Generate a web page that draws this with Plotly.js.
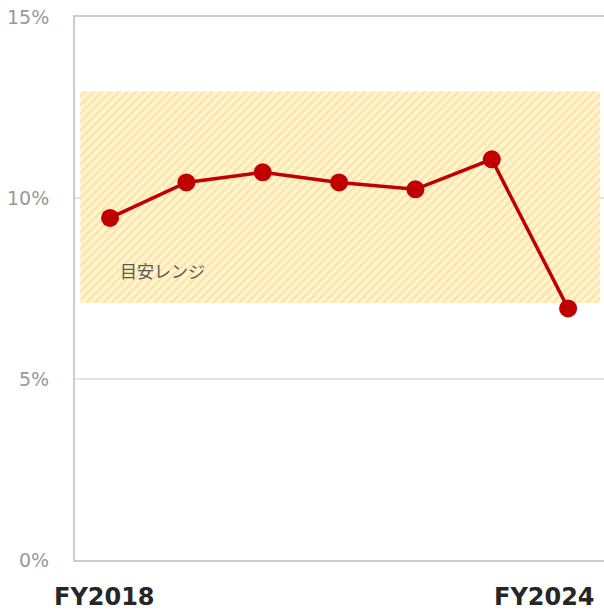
<!DOCTYPE html>
<html>
<head>
<meta charset="utf-8">
<script src="https://cdn.plot.ly/plotly-3.0.1.min.js"></script>
<style>html,body{margin:0;padding:0;background:#fff;}#chart{width:604px;height:612px;}</style>
</head>
<body>
<div id="chart"></div>
<script>
const years = ['FY2018','FY2019','FY2020','FY2021','FY2022','FY2023','FY2024'];
const values = [9.45, 10.43, 10.71, 10.43, 10.24, 11.07, 6.95];
const bandRange = [7.1, 12.95];
const bandLabel = '目安レンジ';
const yTicks = [0, 5, 10, 15];
const shownLabels = ['FY2018', 'FY2024'];

const xIdx = years.map((_, i) => i);
const bx0 = -0.39, bx1 = 6.42;

const band = {
  x: [bx0, bx1, bx1, bx0, bx0],
  y: [bandRange[0], bandRange[0], bandRange[1], bandRange[1], bandRange[0]],
  type: 'scatter', mode: 'lines', fill: 'toself',
  line: {width: 0, color: 'rgba(0,0,0,0)'},
  fillcolor: '#fff2cc',
  fillpattern: {shape: '/', bgcolor: '#fff4d4', fgcolor: '#ffe29a', size: 6, solidity: 0.35},
  hoverinfo: 'skip', showlegend: false
};
const line = {
  x: xIdx, y: values, type: 'scatter', mode: 'lines+markers',
  line: {color: '#c00000', width: 3.5},
  marker: {color: '#c00000', size: 18},
  showlegend: false
};

const layout = {
  width: 604, height: 612,
  margin: {l: 75, r: 0, t: 17, b: 52},
  paper_bgcolor: '#fff', plot_bgcolor: '#fff',
  showlegend: false,
  xaxis: {
    range: [-0.459, 6.47], showgrid: false, zeroline: false,
    showticklabels: false, showline: true, mirror: true,
    linecolor: '#cccccc', linewidth: 2
  },
  yaxis: {
    range: [0, 15], tickvals: yTicks, ticktext: yTicks.map(v => v + '%'),
    showgrid: true, gridcolor: '#e4e4e4', gridwidth: 1.5, zeroline: false,
    showline: true, linecolor: '#cccccc', linewidth: 2,
    ticks: '', ticklabelstandoff: 20,
    tickfont: {family: 'DejaVu Sans', size: 19, color: '#999999'}
  },
  annotations: [
    {text: '<b>' + shownLabels[0] + '</b>', xref: 'paper', yref: 'paper', x: 0.055, y: -0.068,
     xanchor: 'center', yanchor: 'middle', showarrow: false,
     font: {family: 'DejaVu Sans', size: 24, color: '#262626'}},
    {text: '<b>' + shownLabels[1] + '</b>', xref: 'paper', yref: 'paper', x: 0.888, y: -0.068,
     xanchor: 'center', yanchor: 'middle', showarrow: false,
     font: {family: 'DejaVu Sans', size: 24, color: '#262626'}},
    {text: bandLabel, xref: 'paper', yref: 'y', x: 0.165, y: 8.0,
     xanchor: 'center', yanchor: 'middle', showarrow: false,
     font: {family: 'Noto Sans CJK JP', size: 17, color: '#595959'}}
  ]
};

Plotly.newPlot('chart', [band, line], layout, {staticPlot: true, displayModeBar: false});
</script>
</body>
</html>
